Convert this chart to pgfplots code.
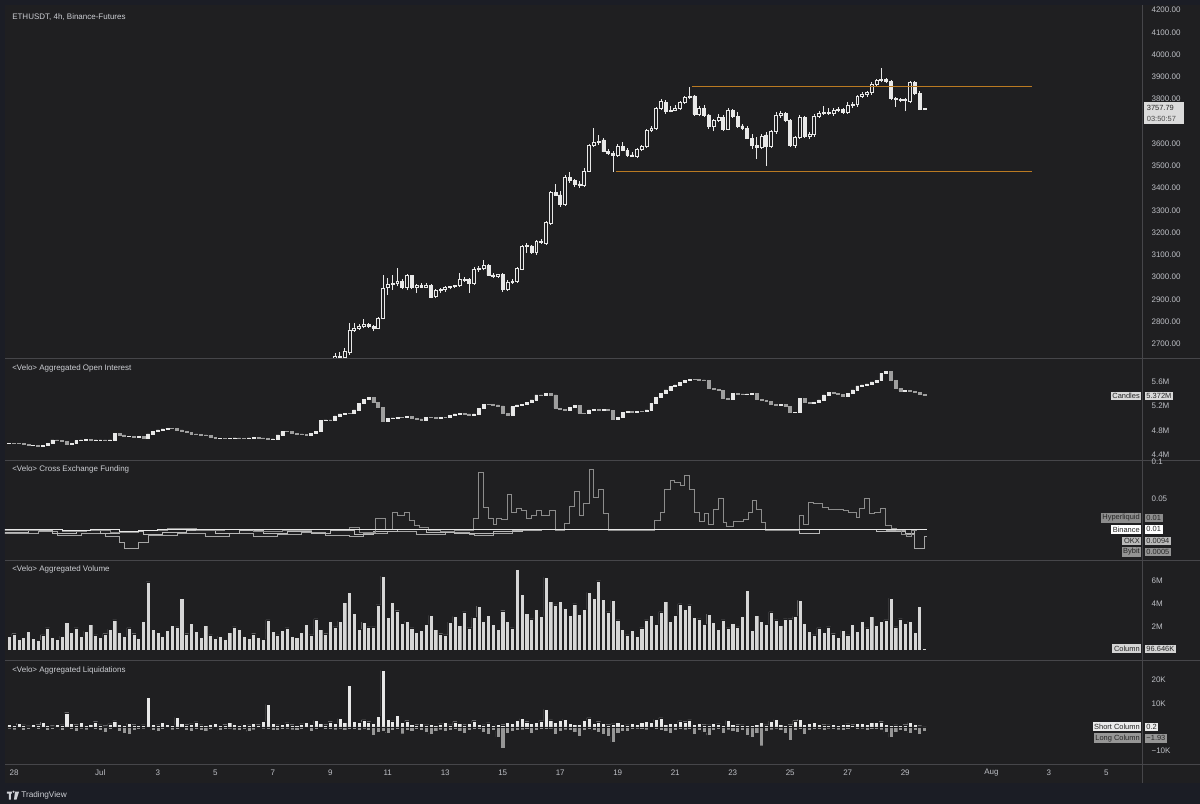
\documentclass[border=0pt]{standalone}
\usepackage{pgfplots}
\pgfplotsset{compat=1.18}
\usepackage{pgfplotstable}
\usepackage{fontspec}
\setmainfont{Liberation Sans}

\definecolor{frame}{RGB}{27,29,37}
\definecolor{chartbg}{RGB}{31,31,33}
\definecolor{sep}{RGB}{70,70,74}
\definecolor{txt}{RGB}{205,207,212}
\definecolor{tick}{RGB}{190,192,198}
\definecolor{candle}{RGB}{232,232,232}
\definecolor{oidown}{RGB}{158,158,158}
\definecolor{hlq}{RGB}{140,140,140}
\definecolor{okx}{RGB}{185,185,185}
\definecolor{bybit}{RGB}{165,165,165}
\definecolor{rangec}{RGB}{186,122,34}
\definecolor{volc}{RGB}{214,214,214}
\definecolor{longc}{RGB}{150,150,150}

% ETHUSDT 4h candles, k = candle index (Jun 28 00:00 = 0)
\pgfplotstableread{
k o h l c
66 2600 2625 2590 2620
67 2625 2660 2615 2645
68 2645 2662 2630 2638
69 2638 2680 2632 2668
70 2660 2795 2652 2763
71 2763 2795 2755 2772
72 2772 2790 2762 2779
73 2779 2812 2770 2786
74 2787 2795 2772 2778
75 2778 2785 2756 2772
76 2772 2820 2765 2816
77 2816 3010 2810 2950
78 2952 2995 2920 2966
79 2966 3010 2943 2970
80 2970 3040 2958 2980
81 2980 2990 2945 2952
82 2952 3015 2940 3006
83 3006 3010 2945 2956
84 2956 2970 2928 2961
85 2961 2975 2950 2956
86 2956 2972 2950 2965
87 2961 2968 2905 2910
88 2912 2945 2905 2940
89 2940 2950 2930 2945
90 2943 2958 2935 2954
91 2954 2962 2945 2958
92 2958 2966 2950 2962
93 2962 3018 2955 2991
94 2991 3000 2980 2986
95 2988 2995 2928 2970
96 2970 3045 2965 3036
97 3036 3050 3025 3041
98 3041 3077 3030 3051
99 3051 3060 3005 3010
100 3010 3020 2995 3005
101 3005 3015 2998 3011
102 3013 3020 2935 2946
103 2946 2985 2938 2976
104 2976 2990 2970 2981
105 2980 3045 2975 3040
106 3036 3145 3030 3137
107 3137 3155 3110 3142
108 3140 3145 3105 3110
109 3110 3165 3100 3160
110 3160 3170 3150 3155
111 3150 3250 3145 3245
112 3242 3385 3235 3380
113 3380 3420 3365 3369
114 3369 3385 3315 3329
115 3329 3460 3320 3449
116 3449 3470 3425 3434
117 3434 3440 3405 3419
118 3419 3430 3400 3414
119 3414 3490 3405 3474
120 3474 3600 3470 3594
121 3594 3670 3585 3604
122 3604 3640 3595 3612
123 3616 3625 3560 3564
124 3564 3575 3550 3556
125 3556 3565 3474 3549
126 3549 3600 3540 3589
127 3589 3605 3565 3568
128 3568 3578 3540 3549
129 3549 3560 3540 3544
130 3541 3580 3535 3574
131 3574 3595 3565 3589
132 3589 3665 3580 3658
133 3658 3680 3650 3669
134 3669 3765 3660 3758
135 3758 3800 3750 3788
136 3784 3795 3735 3743
137 3743 3770 3740 3750
138 3750 3775 3745 3758
139 3758 3790 3750 3784
140 3784 3815 3778 3808
141 3808 3856 3800 3814
142 3814 3820 3725 3733
143 3733 3770 3722 3758
144 3758 3775 3720 3729
145 3729 3735 3665 3676
146 3676 3710 3655 3703
147 3703 3735 3695 3718
148 3718 3730 3655 3664
149 3664 3760 3660 3748
150 3748 3755 3715 3721
151 3721 3740 3670 3679
152 3679 3690 3660 3669
153 3669 3680 3620 3624
154 3624 3643 3575 3590
155 3590 3628 3530 3583
156 3583 3645 3575 3631
157 3639 3650 3500 3589
158 3589 3660 3580 3654
159 3654 3740 3645 3729
160 3729 3745 3715 3734
161 3734 3740 3695 3703
162 3703 3710 3585 3594
163 3594 3635 3580 3628
164 3628 3730 3620 3718
165 3718 3725 3625 3634
166 3634 3650 3620 3641
167 3641 3735 3630 3724
168 3724 3745 3715 3736
169 3736 3770 3730 3740
170 3740 3762 3730 3736
171 3736 3760 3725 3748
172 3748 3765 3740 3754
173 3754 3760 3735 3742
174 3742 3785 3735 3773
175 3773 3785 3760 3778
176 3778 3820 3765 3814
177 3814 3830 3805 3823
178 3823 3835 3810 3829
179 3829 3875 3820 3868
180 3868 3890 3860 3883
181 3883 3938 3875 3887
182 3889 3895 3870 3878
183 3878 3885 3795 3803
184 3803 3810 3765 3798
185 3798 3805 3785 3794
186 3794 3805 3745 3798
187 3790 3880 3780 3874
188 3874 3880 3820 3826
189 3826 3835 3750 3754
190 3754 3762 3752 3758
}\price

% aggregated open interest (millions), open and close of each 4h candle
\pgfplotstableread{
k o c
-1 4.590 4.592
0 4.592 4.590
1 4.590 4.586
2 4.586 4.570
3 4.570 4.553
4 4.553 4.555
5 4.555 4.548
6 4.548 4.560
7 4.560 4.592
8 4.592 4.647
9 4.647 4.642
10 4.642 4.619
11 4.619 4.581
12 4.581 4.592
13 4.592 4.636
14 4.636 4.647
15 4.647 4.655
16 4.655 4.640
17 4.640 4.645
18 4.645 4.647
19 4.647 4.636
20 4.636 4.647
21 4.647 4.756
22 4.756 4.729
23 4.729 4.701
24 4.701 4.705
25 4.705 4.690
26 4.690 4.701
27 4.701 4.674
28 4.674 4.745
29 4.745 4.784
30 4.784 4.811
31 4.811 4.827
32 4.827 4.838
33 4.838 4.834
34 4.834 4.811
35 4.811 4.784
36 4.784 4.767
37 4.767 4.745
38 4.745 4.734
39 4.734 4.729
40 4.729 4.723
41 4.723 4.690
42 4.690 4.674
43 4.674 4.676
44 4.676 4.668
45 4.668 4.674
46 4.674 4.679
47 4.679 4.674
48 4.674 4.672
49 4.672 4.679
50 4.679 4.690
51 4.690 4.679
52 4.679 4.668
53 4.668 4.657
54 4.657 4.661
55 4.661 4.729
56 4.729 4.784
57 4.784 4.780
58 4.780 4.756
59 4.756 4.745
60 4.745 4.734
61 4.734 4.729
62 4.729 4.756
63 4.756 4.784
64 4.784 4.964
65 4.964 4.975
66 4.975 4.970
67 4.970 5.041
68 5.041 5.074
69 5.074 5.085
70 5.085 5.080
71 5.080 5.140
72 5.140 5.249
73 5.249 5.315
74 5.315 5.348
75 5.348 5.260
76 5.260 5.178
77 5.178 4.959
78 4.959 4.997
79 4.997 5.008
80 5.008 5.019
81 5.019 5.015
82 5.015 5.030
83 5.030 5.003
84 5.003 4.992
85 4.992 4.975
86 4.975 5.019
87 5.019 5.015
88 5.015 4.997
89 4.997 5.019
90 5.019 5.015
91 5.015 5.052
92 5.052 5.074
93 5.074 5.085
94 5.085 5.074
95 5.074 5.058
96 5.058 5.074
97 5.074 5.167
98 5.167 5.233
99 5.233 5.228
100 5.228 5.222
101 5.222 5.205
102 5.205 5.085
103 5.085 5.058
104 5.058 5.195
105 5.195 5.222
106 5.222 5.233
107 5.233 5.260
108 5.260 5.304
109 5.304 5.386
110 5.386 5.382
111 5.382 5.414
112 5.414 5.386
113 5.386 5.167
114 5.167 5.151
115 5.151 5.140
116 5.140 5.184
117 5.184 5.216
118 5.216 5.085
119 5.085 5.081
120 5.081 5.140
121 5.140 5.151
122 5.151 5.140
123 5.140 5.144
124 5.144 5.129
125 5.129 4.986
126 4.986 5.019
127 5.019 5.096
128 5.096 5.112
129 5.112 5.108
130 5.108 5.112
131 5.112 5.110
132 5.110 5.140
133 5.140 5.249
134 5.249 5.348
135 5.348 5.414
136 5.414 5.469
137 5.469 5.523
138 5.523 5.551
139 5.551 5.589
140 5.589 5.622
141 5.622 5.644
142 5.644 5.640
143 5.640 5.633
144 5.633 5.629
145 5.629 5.496
146 5.496 5.479
147 5.479 5.458
148 5.458 5.332
149 5.332 5.315
150 5.315 5.414
151 5.414 5.403
152 5.403 5.397
153 5.397 5.403
154 5.403 5.414
155 5.414 5.315
156 5.315 5.293
157 5.293 5.277
158 5.277 5.233
159 5.233 5.222
160 5.222 5.226
161 5.226 5.195
162 5.195 5.096
163 5.096 5.101
164 5.101 5.332
165 5.332 5.260
166 5.260 5.249
167 5.249 5.266
168 5.266 5.304
169 5.304 5.386
170 5.386 5.430
171 5.430 5.414
172 5.414 5.397
173 5.397 5.370
174 5.370 5.414
175 5.414 5.469
176 5.469 5.534
177 5.534 5.551
178 5.551 5.567
179 5.567 5.600
180 5.600 5.622
181 5.622 5.742
182 5.742 5.770
183 5.770 5.622
184 5.622 5.496
185 5.496 5.452
186 5.452 5.458
187 5.458 5.441
188 5.441 5.425
189 5.425 5.397
190 5.397 5.372
}\oi

% aggregated volume (millions)
\pgfplotstableread{
k v
-1 1.2
0 1.4
1 0.9
2 1.1
3 1.6
4 1.0
5 0.8
6 1.3
7 1.9
8 1.1
9 0.9
10 1.2
11 2.4
12 1.5
13 1.9
14 1.2
15 1.6
16 2.2
17 1.3
18 1.1
19 1.4
20 1.8
21 2.6
22 1.5
23 1.2
24 1.9
25 1.4
26 1.0
27 2.5
28 5.9
29 1.8
30 1.5
31 1.2
32 1.7
33 2.1
34 2.0
35 4.5
36 1.4
37 2.3
38 1.6
39 1.1
40 2.1
41 1.3
42 1.0
43 1.2
44 0.9
45 1.5
46 2.0
47 1.8
48 1.2
49 1.0
50 1.4
51 1.1
52 0.9
53 2.6
54 1.6
55 1.3
56 1.7
57 1.9
58 1.2
59 1.1
60 1.5
61 2.2
62 1.3
63 2.7
64 1.8
65 1.4
66 2.5
67 2.0
68 2.5
69 4.1
70 5.0
71 3.2
72 1.8
73 2.4
74 2.0
75 2.0
76 3.9
77 6.4
78 2.8
79 4.1
80 3.4
81 2.3
82 2.5
83 1.9
84 1.5
85 1.7
86 2.2
87 3.0
88 1.8
89 1.4
90 1.3
91 2.4
92 2.9
93 2.1
94 3.3
95 1.9
96 2.8
97 3.8
98 2.5
99 3.0
100 2.2
101 1.8
102 3.4
103 2.5
104 1.9
105 7.0
106 4.8
107 3.2
108 2.7
109 3.5
110 2.9
111 6.3
112 4.2
113 3.9
114 4.2
115 3.6
116 3.0
117 4.0
118 3.1
119 3.5
120 5.0
121 4.5
122 6.0
123 4.4
124 3.3
125 4.3
126 2.6
127 1.8
128 1.3
129 1.7
130 1.2
131 1.9
132 2.6
133 3.0
134 2.2
135 3.3
136 4.2
137 2.5
138 3.0
139 4.0
140 3.5
141 3.9
142 2.8
143 2.7
144 2.2
145 3.1
146 2.4
147 1.8
148 2.6
149 1.9
150 2.3
151 2.0
152 2.9
153 5.2
154 1.7
155 3.0
156 2.5
157 2.2
158 3.3
159 2.6
160 2.1
161 2.7
162 2.7
163 2.9
164 4.3
165 2.3
166 1.6
167 1.3
168 1.9
169 1.5
170 2.0
171 1.4
172 1.1
173 1.7
174 1.3
175 2.2
176 1.6
177 2.5
178 1.9
179 2.9
180 2.1
181 2.5
182 2.6
183 4.5
184 2.0
185 2.7
186 2.3
187 2.5
188 1.5
189 3.8
190 0.1
}\vol

% aggregated liquidations (thousands): s = shorts, l = longs
\pgfplotstableread{
k s l
-1 1.0 -0.8
0 0.6 -1.2
1 1.5 -0.6
2 0.8 -1.5
3 0.4 -0.9
4 1.2 -0.7
5 0.9 -1.1
6 2.0 -0.5
7 0.7 -1.3
8 0.5 -0.9
9 1.1 -0.6
10 0.8 -1.4
11 6.0 -0.7
12 1.4 -1.0
13 0.9 -1.8
14 1.8 -0.8
15 0.6 -1.2
16 1.2 -0.6
17 2.2 -0.9
18 0.8 -1.6
19 0.5 -2.2
20 1.3 -1.0
21 2.5 -0.7
22 1.0 -1.9
23 0.7 -2.5
24 1.6 -3.0
25 0.9 -1.4
26 0.6 -1.1
27 0.8 -0.8
28 12.5 -0.6
29 1.1 -1.5
30 0.8 -1.9
31 1.9 -1.0
32 1.2 -0.7
33 0.7 -1.2
34 4.0 -0.9
35 1.5 -0.6
36 0.9 -1.4
37 1.3 -1.8
38 2.1 -0.9
39 0.8 -1.3
40 0.6 -2.0
41 1.0 -1.1
42 1.4 -0.7
43 0.7 -1.6
44 0.9 -1.0
45 1.8 -0.8
46 1.1 -1.2
47 0.6 -1.5
48 1.2 -0.9
49 0.8 -1.9
50 1.5 -1.2
51 0.9 -0.7
52 2.4 -0.8
53 9.5 -0.9
54 1.6 -1.3
55 0.8 -1.6
56 1.1 -1.0
57 1.7 -0.8
58 0.9 -1.2
59 0.7 -1.4
60 1.3 -0.9
61 2.0 -0.7
62 1.0 -1.8
63 2.8 -1.1
64 1.4 -0.6
65 0.9 -1.0
66 2.2 -0.9
67 1.5 -1.2
68 3.5 -0.8
69 2.0 -1.5
70 17.5 -1.0
71 2.4 -0.9
72 1.8 -1.3
73 3.0 -0.8
74 2.2 -1.4
75 1.6 -3.5
76 4.5 -2.2
77 24.0 -1.8
78 3.2 -2.6
79 2.5 -1.4
80 4.8 -1.0
81 1.9 -2.9
82 2.6 -1.5
83 1.2 -1.9
84 0.9 -1.1
85 1.5 -1.6
86 0.8 -2.4
87 1.1 -3.2
88 0.7 -1.8
89 1.3 -1.2
90 1.9 -2.0
91 0.8 -1.4
92 2.2 -1.0
93 1.6 -1.7
94 0.9 -2.6
95 1.4 -1.5
96 2.6 -1.1
97 1.1 -0.9
98 0.8 -2.1
99 1.7 -3.0
100 0.6 -1.6
101 1.2 -4.2
102 0.9 -9.0
103 2.0 -2.8
104 1.4 -1.9
105 2.8 -1.5
106 3.5 -1.2
107 2.2 -1.0
108 1.6 -2.6
109 1.9 -1.4
110 2.5 -0.9
111 7.5 -1.1
112 3.0 -0.8
113 1.8 -3.1
114 2.7 -2.0
115 3.3 -1.2
116 1.5 -1.6
117 1.2 -2.4
118 1.0 -3.8
119 2.9 -1.3
120 3.8 -0.9
121 1.6 -1.5
122 2.2 -2.2
123 1.4 -3.3
124 0.9 -4.0
125 1.3 -6.5
126 2.0 -2.5
127 1.1 -1.8
128 0.8 -2.0
129 1.5 -1.1
130 1.0 -0.8
131 1.8 -0.9
132 2.4 -1.2
133 2.0 -0.7
134 3.2 -1.0
135 3.8 -1.4
136 1.2 -1.8
137 1.6 -2.5
138 1.4 -1.6
139 2.5 -1.0
140 2.2 -1.2
141 3.0 -0.9
142 1.1 -3.0
143 1.5 -1.6
144 0.9 -2.2
145 0.8 -3.5
146 1.6 -1.4
147 1.3 -1.1
148 0.7 -2.8
149 2.8 -1.2
150 1.0 -1.9
151 0.9 -2.4
152 0.8 -1.5
153 0.6 -3.6
154 0.7 -4.2
155 1.2 -2.8
156 1.9 -8.0
157 0.8 -2.0
158 2.4 -1.2
159 3.1 -0.8
160 1.0 -1.5
161 0.7 -2.6
162 0.9 -5.5
163 2.6 -1.4
164 3.2 -1.0
165 1.1 -3.0
166 1.4 -1.6
167 2.0 -0.9
168 1.2 -1.1
169 0.9 -1.3
170 0.8 -0.8
171 1.1 -1.0
172 0.7 -1.2
173 1.0 -1.6
174 1.3 -0.9
175 0.9 -0.7
176 1.5 -1.1
177 1.6 -0.8
178 1.2 -1.3
179 2.0 -0.9
180 1.8 -1.0
181 2.2 -1.2
182 1.0 -2.4
183 0.6 -4.5
184 0.8 -2.2
185 0.7 -1.5
186 0.9 -1.8
187 1.9 -2.6
188 1.2 -1.4
189 0.5 -3.0
190 0.2 -1.93
}\liq

\pgfplotsset{
  panel/.style={
    scale only axis, width=853.5pt, anchor=north west,
    xmin=-1.88, xmax=235.55,
    axis line style={draw=none}, major tick length=0pt, tick style={draw=none},
    xtick=\empty, ytick pos=right, yticklabel pos=right,
    yticklabel style={anchor=west, xshift=3.2pt, text=tick, font=\fontsize{6}{7}\selectfont},
    /pgf/number format/assume math mode=true,
    clip=true,
  },
  bodies/.style={panel, ytick=\empty, ybar stacked, bar width=2.2pt},
  p1/.style={at={(3.75pt,-3.75pt)}, height=264.75pt, ymin=2637.1, ymax=4222.5},
  p2/.style={at={(3.75pt,-269.25pt)}, height=75.75pt, ymin=4.318, ymax=5.978},
  p3/.style={at={(3.75pt,-345.75pt)}, height=74.25pt, ymin=-0.0307, ymax=0.1009},
  p4/.style={at={(3.75pt,-420.75pt)}, height=74.25pt, ymin=-0.87, ymax=7.74},
  p5/.style={at={(3.75pt,-495.75pt)}, height=78pt, ymin=-16.08, ymax=28.04},
}

\begin{document}
\begin{tikzpicture}[x=0.75pt, y=-0.75pt]
\fill[frame] (0,0) rectangle (1200,804);
\fill[chartbg] (5,5) rectangle (1200,783);
\foreach \yy in {358.5,460.5,560.5,660.5,765} \draw[sep, line width=0.6pt] (5,\yy) -- (1200,\yy);
\draw[sep, line width=0.6pt] (1143,5) -- (1143,783);

% ---- price: wicks
\begin{axis}[panel, p1, ytick={2700,2800,2900,3000,3100,3200,3300,3400,3500,3600,3800,3900,4000,4100,4200},
  yticklabel style={/pgf/number format/.cd, fixed, fixed zerofill, precision=2, 1000 sep={}}]
\addplot[draw=none, forget plot, error bars/.cd, y dir=plus, y explicit, error mark=none,
  error bar style={draw=candle, line width=0.5pt}]
  table[x=k, y=l, y error plus expr=\thisrow{h}-\thisrow{l}] {\price};
\end{axis}
% ---- price: bodies
\begin{axis}[bodies, p1]
\addplot[draw=none, fill=none] table[x=k, y expr={min(\thisrow{o},\thisrow{c})}] {\price};
\addplot[draw=candle, fill=chartbg, line width=0.45pt] table[x=k, y expr={max(\thisrow{c}-\thisrow{o},0)}] {\price};
\addplot[draw=candle, fill=candle, line width=0.45pt] table[x=k, y expr={max(\thisrow{o}-\thisrow{c},0)}] {\price};
\end{axis}
% ---- price: range lines (one path, broken between the two levels)
\begin{axis}[panel, p1, ytick=\empty, unbounded coords=jump]
\addplot[draw=rangec, line width=1.1pt, mark=none, forget plot] coordinates {
  (141.5,3856) (212.4,3856) (nan,nan) (125.6,3474) (212.4,3474)};
\end{axis}

% ---- open interest
\begin{axis}[bodies, p2, ytick={4.4,4.8,5.2,5.6}, yticklabels={4.4M,4.8M,5.2M,5.6M}]
\addplot[draw=none, fill=none] table[x=k, y expr={min(\thisrow{o},\thisrow{c})}] {\oi};
\addplot[draw=candle, fill=candle, line width=0.4pt] table[x=k, y expr={max(\thisrow{c}-\thisrow{o},0)}] {\oi};
\addplot[draw=oidown, fill=oidown, line width=0.4pt] table[x=k, y expr={max(\thisrow{o}-\thisrow{c},0)}] {\oi};
\end{axis}

% ---- funding
\begin{axis}[panel, p3, ytick={0.05,0.1}, yticklabels={0.05,0.1}]
\addplot[const plot, bybit, line width=0.5pt] coordinates {
(-2,0.004)(5,0.007)(9,0.002)(14,0.005)(19,0.001)(22,-0.008)(23,-0.016)(26,-0.008)(28,0.002)(34,0.005)
(40,0.001)(45,0.004)(50,0.0)(55,0.003)(60,0.006)(65,0.002)(70,0.0)(73,0.004)(78,0.007)(84,0.003)
(90,0.006)(95,0.003)(96,0.002)(100,0.005)(104,0.008)(110,0.010)(160,0.010)(182,0.008)(186,0.003)
(188,-0.016)(190,0.0005)(190.6,0.0005)};
\addplot[const plot, okx, line width=0.5pt] coordinates {
(-2,0.006)(3,0.009)(8,0.005)(13,0.008)(18,0.004)(22,0.007)(27,0.003)(31,0.006)(36,0.009)(42,0.005)
(47,0.008)(52,0.004)(57,0.007)(62,0.005)(66,0.009)(71,0.003)(75,0.007)(80,0.010)(86,0.006)(92,0.004)
(96,0.005)(100,0.007)(106,0.010)(164,0.004)(168,0.010)(180,0.007)(186,0.004)(188,0.0094)(190.6,0.0094)};
\addplot[const plot, hlq, line width=0.5pt] coordinates {
(-2,0.008)(5,0.010)(10,0.007)(15,0.009)(20,0.006)(26,0.009)(32,0.011)(38,0.008)(44,0.010)(50,0.007)
(56,0.009)(62,0.010)(70,0.012)(72,0.006)(75.5,0.024)(77.5,0.010)(79,0.033)(80,0.029)(81.5,0.033)
(82.5,0.022)(83.5,0.015)(84.5,0.013)(86.5,0.009)(89,0.007)(92,0.008)(95.8,0.025)(97,0.0855)(98,0.039)
(99,0.024)(100,0.017)(100.7,0.024)(101.7,0.023)(102.9,0.0565)(103.8,0.033)(104.9,0.038)(105.9,0.035)
(107,0.024)(108,0.029)(109,0.035)(110.1,0.029)(111.8,0.035)(112.9,0.0087)(114.9,0.018)(116,0.040)
(117,0.061)(117.9,0.029)(118.9,0.045)(120,0.090)(120.9,0.053)(121.9,0.063)(122.9,0.031)(124,0.0087)
(133.7,0.022)(134.8,0.033)(135.8,0.063)(136.9,0.075)(137.9,0.072)(139,0.068)(139.8,0.082)(140.9,0.063)
(141.9,0.032)(143,0.021)(144,0.031)(145,0.017)(145.9,0.037)(146.9,0.051)(148,0.019)(148.7,0.014)
(150.1,0.021)(152.2,0.023)(153.2,0.033)(154,0.048)(154.9,0.036)(156,0.019)(156.9,0.0087)(163.8,0.029)
(164.7,0.017)(165.7,0.046)(166.8,0.044)(168.8,0.039)(169.9,0.036)(171,0.036)(173,0.035)(174.1,0.032)
(175.8,0.026)(176.5,0.038)(177.5,0.051)(178.6,0.031)(179.6,0.033)(180.8,0.038)(181.9,0.015)
(183.1,0.011)(184.1,0.008)(185.2,0.003)(186.2,0.001)(187.3,0.008)(188.3,0.010)(190.6,0.010)};
\addplot[const plot, candle, line width=0.5pt] coordinates {
(-2,0.0095)(4,0.0100)(10,0.0085)(16,0.0100)(22,0.0078)(26,0.0090)(30,0.0100)(190.6,0.0100)};
\end{axis}

% ---- volume
\begin{axis}[panel, p4, ytick={2,4,6}, yticklabels={2M,4M,6M}]
\addplot[ybar, bar width=3.1pt, bar shift=0pt, fill=volc, draw=chartbg, line width=0.25pt]
  table[x=k, y=v] {\vol};
\end{axis}

% ---- liquidations
\begin{axis}[panel, p5, ytick={-10,10,20}, yticklabels={−10K,10K,20K},
  xtick={0,18,30,42,54,66,78,90,102,114,126,138,150,162,174,186,204,216,228},
  xticklabels={28,Jul,3,5,7,9,11,13,15,17,19,21,23,25,27,29,Aug,3,5},
  xticklabel style={anchor=center, yshift=-6pt, text=tick, font=\fontsize{6}{7}\selectfont}]
\addplot[ybar, bar width=3.1pt, bar shift=0pt, fill=candle, draw=chartbg, line width=0.25pt]
  table[x=k, y=s] {\liq};
\addplot[ybar, bar width=3.1pt, bar shift=0pt, fill=longc, draw=chartbg, line width=0.25pt]
  table[x=k, y=l] {\liq};
\end{axis}

% ---- titles
\begin{scope}[every node/.style={anchor=west, text=txt, inner sep=0pt, font=\fontsize{6}{7}\selectfont}]
\node at (12,17) {ETHUSDT, 4h, Binance-Futures};
\node at (12,369) {<Velo> Aggregated Open Interest};
\node at (12,470) {<Velo> Cross Exchange Funding};
\node at (12,570) {<Velo> Aggregated Volume};
\node at (12,671) {<Velo> Aggregated Liquidations};
\end{scope}

% ---- last price box
\fill[black!14] (1144,102.5) rectangle (1184,124);
\node[anchor=west, inner sep=0pt, text=black!85, font=\fontsize{5.6}{6.2}\selectfont] at (1147,108) {3757.79};
\node[anchor=west, inner sep=0pt, text=black!70, font=\fontsize{5.6}{6.2}\selectfont] at (1147,118.5) {03:50:57};

% ---- scale labels
\begin{scope}[every node/.style={inner sep=1.2pt, text=black!85, font=\fontsize{5.6}{6.2}\selectfont}]
\node[fill=black!15, anchor=east] at (1142,396) {Candles};
\node[fill=black!15, anchor=west] at (1145,396) {5.372M};
\node[fill=hlq, anchor=east] at (1142,518) {Hyperliquid};
\node[fill=hlq, anchor=west] at (1145,518) {0.01};
\node[fill=white, anchor=east] at (1142,529.5) {Binance};
\node[fill=white, anchor=west] at (1145,529.5) {0.01};
\node[fill=okx, anchor=east] at (1142,541) {OKX};
\node[fill=okx, anchor=west] at (1145,541) {0.0094};
\node[fill=bybit!120, anchor=east] at (1142,552) {Bybit};
\node[fill=bybit!120, anchor=west] at (1145,552) {0.0005};
\node[fill=black!17, anchor=east] at (1142,649) {Column};
\node[fill=black!17, anchor=west] at (1145,649) {96.646K};
\node[fill=black!8, anchor=east] at (1142,727) {Short Column};
\node[fill=black!8, anchor=west] at (1145,727) {0.2};
\node[fill=longc, anchor=east] at (1142,738.5) {Long Column};
\node[fill=longc, anchor=west] at (1145,738.5) {−1.93};
\end{scope}

% ---- footer
\fill[txt] (7,792) rectangle (12,794) (9,794) rectangle (11,800);
\fill[txt] (13.5,792) circle (1.2);
\fill[txt] (15,792) -- (19,792) -- (16.5,800) -- (14,800) -- cycle;
\node[anchor=west, text=txt, inner sep=0pt, font=\fontsize{6.2}{7}\selectfont] at (21,796) {TradingView};
\end{tikzpicture}
\end{document}
